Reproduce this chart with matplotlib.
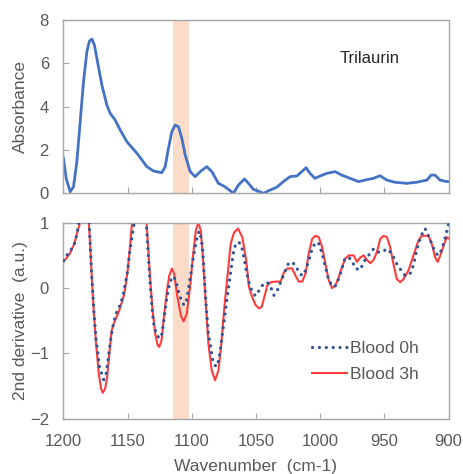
import matplotlib
matplotlib.use("Agg")
import matplotlib.pyplot as plt

plt.rcParams['font.family'] = ['Liberation Sans', 'DejaVu Sans']

# ---- data ----
abs_wn = [1200, 1197.9, 1194.8, 1192.2, 1189.6, 1187, 1184.4, 1181.8, 1179.8, 1177.9, 1175.9,
          1173.5, 1170.1, 1166.2, 1163.6, 1159.7, 1155.8, 1150.6, 1142.8, 1135, 1129.9, 1123.4,
          1120.8, 1118.2, 1115.6, 1113, 1110.4, 1107.8, 1105.2, 1101.3, 1097.4, 1093.5,
          1088.3, 1084.4, 1079.3, 1074.1, 1070.2, 1067.6, 1063.7, 1059, 1055.9, 1052, 1048.1,
          1044.2, 1039, 1033.8, 1028.7, 1023.4, 1018.2, 1014.3, 1011, 1007.9, 1004, 1000,
          994.9, 988.4, 983.2, 976.7, 970.2, 965, 958.6, 953.3, 948.1, 941.7, 932.5, 924.8,
          916.8, 913.6, 910.5, 906.6, 901.4, 900]
abs_val = [1.62, 0.69, 0.07, 0.3, 1.46, 3.3, 5.15, 6.53, 7.03, 7.12, 6.84,
           6.07, 5.0, 4.07, 3.69, 3.38, 2.92, 2.38, 1.85, 1.23, 1.03, 0.95,
           1.23, 2.08, 2.84, 3.15, 3.07, 2.54, 1.77, 1.0, 0.77, 1.0,
           1.23, 1.0, 0.46, 0.3, 0.12, 0.0, 0.38, 0.66, 0.46, 0.18, 0.1,
           0.0, 0.15, 0.28, 0.54, 0.77, 0.8, 1.0, 1.18, 0.92, 0.69, 0.8,
           0.92, 1.0, 0.84, 0.69, 0.54, 0.61, 0.69, 0.81, 0.61, 0.51, 0.46, 0.51,
           0.61, 0.84, 0.84, 0.61, 0.54, 0.54]

b0_wn = [1200, 1199.2, 1195.9, 1192.2, 1190.1, 1188.9, 1188.1, 1184, 1180, 1178, 1176.5, 1174.6,
         1172.8, 1172.3, 1170.2, 1168.7, 1166.8, 1165.6, 1164.3, 1162.9, 1161.7, 1159.1, 1156.5,
         1153.9, 1151.8, 1150, 1148.2, 1146.6, 1145.6, 1144.9, 1140.5, 1135.5, 1134.2, 1132.6,
         1130.6, 1129.3, 1127.5, 1125.4, 1123.3, 1122.1, 1120.8, 1119.4, 1117.6, 1115.5, 1113.8,
         1112, 1109.9, 1107.8, 1106, 1104.2, 1102.6, 1100.8, 1099, 1097.4, 1095.6, 1094.3,
         1093, 1091.7, 1089.1, 1087.1, 1085.3, 1084, 1082.1, 1080.6, 1078.8, 1077.5, 1076.2,
         1074.4, 1072.8, 1071, 1069.2, 1067.7, 1065.8, 1063.2, 1061.1, 1059.4, 1057.6, 1055.5,
         1052.9, 1050.3, 1047.7, 1045.1, 1041.2, 1038.6, 1036, 1033.5, 1030.8, 1028.2, 1024.9,
         1022.3, 1019.2, 1016.6, 1014, 1011.4, 1008.9, 1006.3, 1003.6, 1001.1, 998.5, 995.9,
         993.3, 990.7, 988.6, 986, 983.4, 980.8, 977.8, 975.2, 972.6, 968.7, 966.1, 962.2,
         958.4, 955.8, 951.9, 948, 944.2, 940.3, 936.9, 933.8, 929.9, 927.3, 924.8, 921.4,
         918.3, 915.6, 913.1, 911, 908.4, 905.3, 903.2, 900]
b0_val = [0.42, 0.44, 0.55, 0.63, 0.78, 0.9, 1.0, 1.3, 1.0, 0.2, -0.3, -0.8,
          -1.05, -1.18, -1.31, -1.4, -1.31, -1.15, -0.95, -0.75, -0.6, -0.39, -0.29,
          -0.14, 0.07, 0.27, 0.58, 0.78, 0.9, 1.0, 1.4, 1.0, 0.6, 0.1,
          -0.4, -0.6, -0.7, -0.77, -0.7, -0.54, -0.34, -0.14, 0.04, 0.17, 0.17,
          0.07, -0.09, -0.21, -0.26, -0.19, -0.01, 0.22, 0.45, 0.63, 0.8, 0.87,
          0.78, 0.63, -0.2, -0.7, -0.9, -1.08, -1.18, -1.2, -1.08, -0.9, -0.7,
          -0.44, -0.19, 0.07, 0.32, 0.53, 0.68, 0.7, 0.63, 0.47, 0.27, 0.09,
          -0.06, -0.12, -0.04, 0.04, 0.09, 0.02, -0.11, -0.04, 0.09, 0.22, 0.37,
          0.4, 0.35, 0.24, 0.19, 0.27, 0.42, 0.6, 0.7, 0.68, 0.53, 0.32,
          0.12, 0.04, 0.02, 0.12, 0.27, 0.45, 0.47, 0.42, 0.3, 0.28, 0.4, 0.5,
          0.6, 0.55, 0.55, 0.6, 0.53, 0.37, 0.27, 0.19, 0.22, 0.35, 0.58, 0.8,
          0.91, 0.8, 0.68, 0.58, 0.5, 0.58, 0.73, 0.97]

b3_wn = [1200, 1199.2, 1195.3, 1191.5, 1188.9, 1187, 1183.6, 1180.3, 1179.3, 1178, 1176.5,
         1174.6, 1172.5, 1170.7, 1169.4, 1167.6, 1166, 1164.3, 1162.5, 1160.4, 1156.5, 1152.6,
         1150, 1148.2, 1146.6, 1141, 1135.3, 1134.2, 1132.6, 1130.6, 1128.5, 1126.7, 1125.4,
         1123.6, 1121.5, 1119.4, 1117.6, 1115.5, 1113.8, 1111.2, 1108.5, 1106.5, 1103.9,
         1101.3, 1099.5, 1096.9, 1094.9, 1093, 1091.2, 1089.1, 1087.1, 1084.5, 1081.9,
         1079.3, 1077, 1074.9, 1072.3, 1069.7, 1067.1, 1064, 1060.7, 1057.6, 1055.5, 1052.9,
         1050.3, 1047.7, 1045.6, 1043.8, 1041.2, 1038.6, 1034.7, 1030.8, 1028.2, 1025.6,
         1021.8, 1019.2, 1016.6, 1014, 1011.4, 1008.9, 1006.3, 1003.6, 1001.1, 998.5, 995.9,
         993.3, 990.7, 988.1, 985.5, 983, 980.4, 977.8, 973.9, 971.3, 968.7, 966.1, 963.5,
         960.9, 958.4, 955.8, 953.2, 950.6, 948, 945.5, 942.9, 940.3, 937.6, 935, 931.2,
         927.3, 923.4, 920.8, 915.6, 913.1, 910.4, 908.4, 905.8, 903.2, 901.4, 900]
b3_val = [0.4, 0.42, 0.52, 0.68, 0.88, 1.0, 1.4, 1.0, 0.68, 0.17, -0.34,
          -0.85, -1.31, -1.54, -1.6, -1.54, -1.36, -1.0, -0.65, -0.52, -0.34, -0.09,
          0.27, 0.63, 1.0, 1.6, 1.0, 0.68, 0.17, -0.34, -0.7, -0.87, -0.9,
          -0.8, -0.39, -0.04, 0.19, 0.3, 0.22, -0.14, -0.42, -0.51, -0.39,
          0.02, 0.42, 0.88, 1.0, 0.88, 0.42, -0.24, -0.85, -1.26, -1.41,
          -1.26, -0.85, -0.34, 0.17, 0.68, 0.85, 0.91, 0.78, 0.42, 0.02, -0.14,
          -0.26, -0.31, -0.29, -0.16, 0.04, 0.09, 0.1, 0.1, 0.24, 0.3,
          0.3, 0.19, 0.1, 0.1, 0.22, 0.53, 0.75, 0.8, 0.78, 0.63, 0.37,
          0.12, 0.0, 0.04, 0.17, 0.32, 0.45, 0.5, 0.5, 0.4, 0.47, 0.5, 0.43,
          0.38, 0.43, 0.55, 0.75, 0.8, 0.78, 0.63, 0.37, 0.14, 0.09, 0.14, 0.27,
          0.5, 0.73, 0.8, 0.8, 0.68, 0.47, 0.4, 0.53, 0.68, 0.78, 0.76]

band = (1115, 1102)
x_ticks = [1200, 1150, 1100, 1050, 1000, 950, 900]
top_yticks = [0, 2, 4, 6, 8]
bot_yticks = [-2, -1, 0, 1]

# ---- figure ----
W, H = 464, 474
fig = plt.figure(figsize=(W / 100, H / 100), dpi=100)
gray = '#595959'
spine_c = '#A6A6A6'

def style(ax):
    for s in ax.spines.values():
        s.set_color(spine_c)
        s.set_linewidth(1.0)
    ax.tick_params(direction='in', colors=spine_c, labelcolor=gray, labelsize=12, length=4)
    ax.tick_params(axis='y', pad=10.5)

L, R = 63.5, 448.5
ax1 = fig.add_axes([L / W, 1 - 193.3 / H, (R - L) / W, 173.3 / H])
ax1.axvspan(band[0], band[1], color='#FADCC8', zorder=0, lw=0)
ax1.plot(abs_wn, abs_val, color='#4472C4', lw=2, solid_joinstyle='round')
ax1.set_xlim(1200, 900)
ax1.set_ylim(0, 8)
ax1.set_xticks(x_ticks)
ax1.set_xticklabels([])
ax1.set_yticks(top_yticks)
ax1.set_ylabel('Absorbance', color=gray, fontsize=12.5)
ax1.yaxis.set_label_coords(-0.092, 0.5)
ax1.text(0.796, 0.778, 'Trilaurin', transform=ax1.transAxes, fontsize=12,
         color='#262626', ha='center', va='center')
style(ax1)

ax2 = fig.add_axes([L / W, 1 - 418.9 / H, (R - L) / W, 196.2 / H])
ax2.axvspan(band[0], band[1], color='#FADCC8', zorder=0, lw=0)
ax2.plot(b0_wn, b0_val, color='#2F5597', lw=2.3, linestyle=(0, (0.05, 2.1)),
         dash_capstyle='round', label='Blood 0h', zorder=3)
ax2.plot(b3_wn, b3_val, color='#FF3B3B', lw=1.5, label='Blood 3h', zorder=2,
         solid_joinstyle='round')
ax2.set_xlim(1200, 900)
ax2.set_ylim(-2, 1)
ax2.set_xticks(x_ticks)
ax2.set_yticks(bot_yticks)
ax2.set_ylabel('2nd derivative  (a.u.)', color=gray, fontsize=12.5)
ax2.yaxis.set_label_coords(-0.092, 0.5)
ax2.set_xlabel('Wavenumber  (cm-1)', color=gray, fontsize=12.5)
ax2.xaxis.set_label_coords(0.5, -0.205)
style(ax2)
ax2.tick_params(axis='x', pad=11)
leg = ax2.legend(loc='center', bbox_to_anchor=(0.784, 0.293), frameon=False, fontsize=12.5,
                 handlelength=2.0, handletextpad=0.2, labelspacing=0.67)
for t in leg.get_texts():
    t.set_color(gray)

fig.savefig('out.png', dpi=100)
